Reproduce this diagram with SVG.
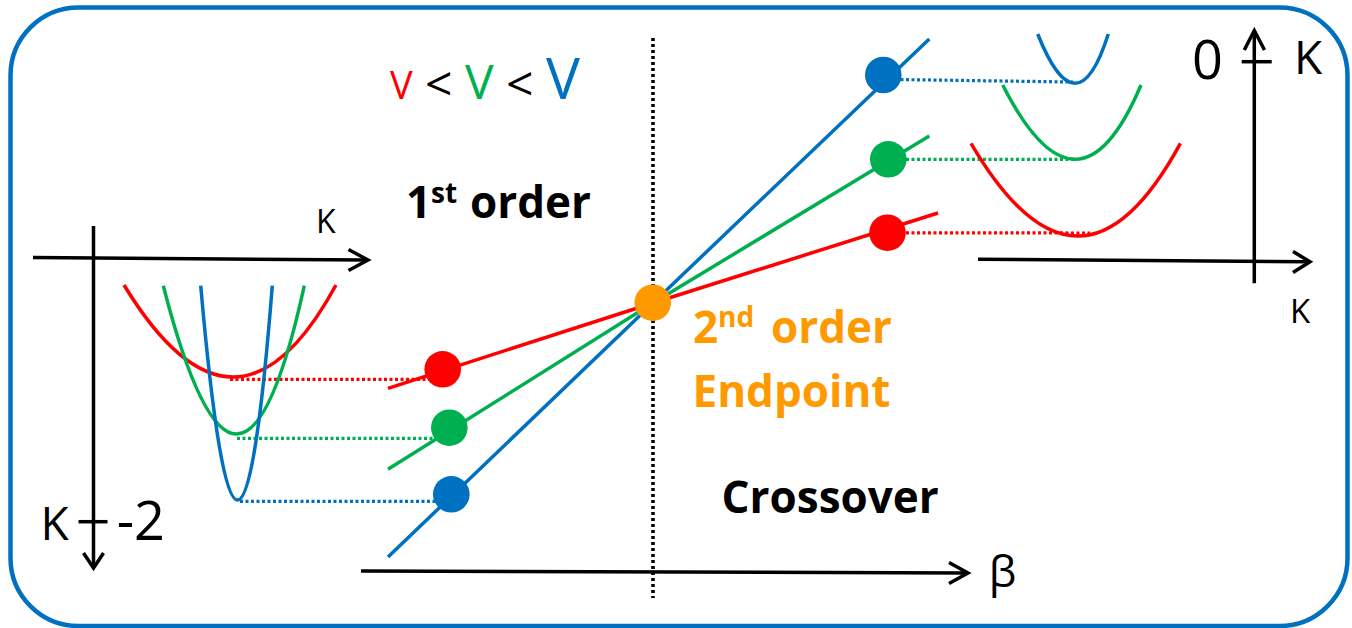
<svg xmlns="http://www.w3.org/2000/svg" width="1352" height="628" viewBox="0 0 1352 628">
<style>
.ax{fill:none;stroke:#000;stroke-width:3.5;stroke-linecap:butt;stroke-linejoin:miter}
.cv{fill:none;stroke-width:3.5}
.dl{fill:none;stroke-width:3.2;stroke-dasharray:3 2.5}
.r{stroke:#FF0000}.g{stroke:#00B050}.b{stroke:#0070C0}
.lbl{font-family:"Open Sans","Liberation Sans",sans-serif;fill:#000}
.bold{font-family:"Open Sans","Liberation Sans",sans-serif;font-weight:700}
</style>
<rect id="frame" x="10.5" y="7.5" width="1337" height="618.5" rx="68" ry="68" fill="#fff" stroke="#0070C0" stroke-width="4.5"/>

<g id="divider">
<line x1="653" y1="38" x2="653" y2="598" stroke="#000" stroke-width="3.6" stroke-dasharray="3 3"/>
</g>

<g id="axes">
<line class="ax" x1="33" y1="257.5" x2="367" y2="260"/>
<polyline class="ax" points="348.5,249.5 368,260 348.5,270.5"/>
<line class="ax" x1="93.5" y1="226" x2="93.5" y2="567"/>
<polyline class="ax" points="83.5,553 93.5,568 103.5,553"/>
<line class="ax" x1="78.5" y1="521.7" x2="107.5" y2="521.7"/>
<line class="ax" x1="978" y1="259.3" x2="1309" y2="261.7"/>
<polyline class="ax" points="1293,251.5 1310,261.7 1293,272.5"/>
<line class="ax" x1="1254.3" y1="283.3" x2="1254.3" y2="31"/>
<polyline class="ax" points="1244.3,50 1254.3,30.5 1264.5,50"/>
<line class="ax" x1="1241.7" y1="61.7" x2="1271.7" y2="61.7"/>
<line class="ax" x1="361" y1="571" x2="967" y2="573"/>
<polyline class="ax" points="949,562.5 968,573 949,583.5"/>
</g>

<g id="connectors">
<line class="dl r" x1="230" y1="379.3" x2="432" y2="379.3"/>
<line class="dl g" x1="237" y1="438.3" x2="440" y2="438.3"/>
<line class="dl b" x1="240" y1="501.3" x2="440" y2="501.3"/>
<line class="dl b" x1="895" y1="79.5" x2="1073" y2="82"/>
<line class="dl g" x1="895" y1="159.3" x2="1075" y2="159.3"/>
<line class="dl r" x1="895" y1="232.8" x2="1090" y2="233"/>
</g>

<g id="left-wells">
<path class="cv r" d="M124,285 Q236,469 336,285"/>
<path class="cv g" d="M163.3,285.7 Q239.4,582.3 304.3,285.7"/>
<path class="cv b" d="M200.7,285.7 Q238.5,714.3 272.3,285.7"/>
</g>

<g id="right-wells">
<path class="cv b" d="M1037.7,34 Q1077,132.6 1108.3,34"/>
<path class="cv g" d="M1002.7,85 Q1078.2,233.6 1141,85"/>
<path class="cv r" d="M971,143.3 Q1079.7,328.7 1180.4,143.3"/>
</g>

<g id="transition-lines">
<polyline class="cv r" points="388,388.3 653,303 938,213"/>
<polyline class="cv g" points="388,469.3 653,303 929.3,136"/>
<polyline class="cv b" points="388,557 653,303 929.3,39"/>
</g>

<g id="dots">
<circle id="dot-left-red" cx="442.7" cy="369.3" r="18.3" fill="#FF0000"/>
<circle id="dot-left-green" cx="449.3" cy="427.7" r="18.3" fill="#00B050"/>
<circle id="dot-left-blue" cx="451.3" cy="494.3" r="18.3" fill="#0070C0"/>
<circle id="dot-right-blue" cx="883.3" cy="75" r="18.3" fill="#0070C0"/>
<circle id="dot-right-green" cx="888.3" cy="159.3" r="18.3" fill="#00B050"/>
<circle id="dot-right-red" cx="887.5" cy="232.7" r="18.3" fill="#FF0000"/>
<circle id="endpoint" cx="652.7" cy="302.7" r="18.3" fill="#FF9900"/>
</g>

<g id="labels">
<text class="lbl" x="401.4" y="99.3" font-size="38" text-anchor="middle" style="fill:#FF0000">V</text>
<text class="lbl" x="438.7" y="101" font-size="48" text-anchor="middle">&lt;</text>
<text class="lbl" x="479.2" y="99.3" font-size="48" text-anchor="middle" style="fill:#00B050">V</text>
<text class="lbl" x="519.7" y="101" font-size="48" text-anchor="middle">&lt;</text>
<text class="lbl" x="563" y="99.3" font-size="57" text-anchor="middle" style="fill:#0070C0">V</text>

<text class="bold" font-size="44" fill="#000"><tspan x="406" y="218.3">1</tspan><tspan x="431" y="202.7" font-size="28">st</tspan><tspan x="470" y="218.3">order</tspan></text>
<text class="bold" font-size="44" fill="#FF9900"><tspan x="693" y="343.3">2</tspan><tspan x="718" y="327.3" font-size="28">nd</tspan><tspan x="771" y="343.3">order</tspan></text>
<text class="bold" x="692.5" y="407.3" font-size="44" fill="#FF9900">Endpoint</text>
<text class="bold" x="721.5" y="513" font-size="44" fill="#000">Crossover</text>

<text class="lbl" x="316" y="233.3" font-size="32">K</text>
<text class="lbl" x="40.5" y="540" font-size="46">K</text>
<text class="lbl" x="165" y="540" font-size="54" text-anchor="end">-2</text>
<text class="lbl" x="1207.5" y="78.8" font-size="54" text-anchor="middle">0</text>
<text class="lbl" x="1294" y="74" font-size="46">K</text>
<text class="lbl" x="1290" y="323" font-size="33">K</text>
<text class="lbl" x="1002.5" y="586.5" font-size="44" text-anchor="middle">β</text>
</g>
</svg>
